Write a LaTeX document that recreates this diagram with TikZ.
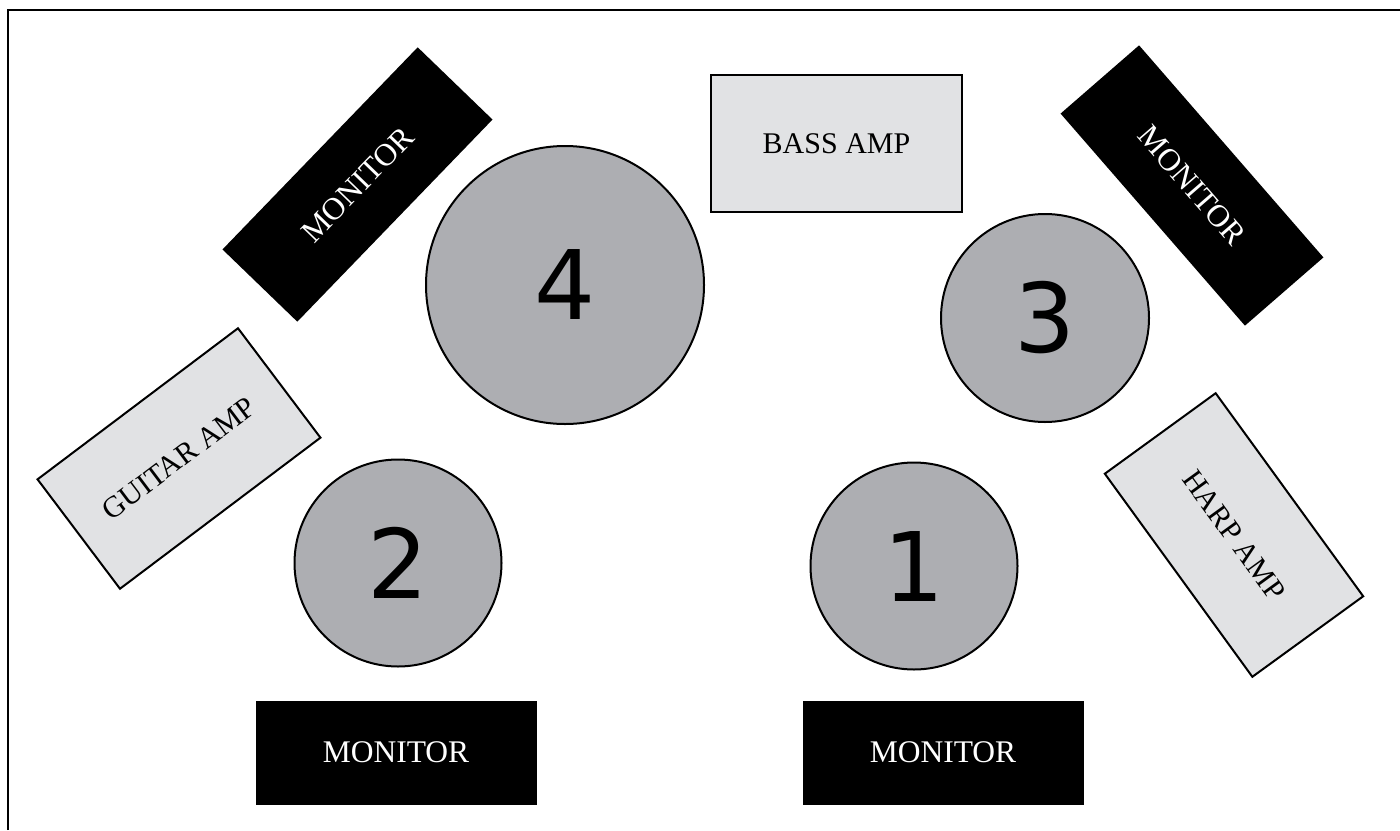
\documentclass[tikz,border=0pt]{standalone}
\usepackage{fontspec}
\setmainfont{Liberation Serif}
\newfontfamily\digitfont{DejaVu Sans}
\definecolor{circfill}{RGB}{173,174,178}
\definecolor{ampfill}{RGB}{225,226,228}
\begin{document}
\begin{tikzpicture}[x=1pt,y=-1pt,
  mon/.style={fill=black,text=white,inner sep=0pt,minimum width=281pt,minimum height=104pt,font=\fontsize{31.5}{33}\selectfont},
  amp/.style={draw=black,line width=2pt,fill=ampfill,inner sep=0pt,minimum width=251pt,minimum height=137pt,font=\fontsize{30}{32}\selectfont},
  mic/.style={circle,draw=black,line width=2pt,fill=circfill,inner sep=0pt,font=\digitfont\fontsize{96}{100}\selectfont}]
\useasboundingbox (0,0) rectangle (1400,830);
\fill[white] (0,0) rectangle (1400,830);
\draw[line width=2pt] (8,830) -- (8,10) -- (1400,10);
% amps
\node[amp] (bass) at (836.5,143.5) {BASS AMP};
\node[amp,rotate=37] (guitar) at (179,458.5) {GUITAR AMP};
\node[amp,rotate=-54] (harp) at (1234,535) {HARP AMP};
% monitors
\node[mon,rotate=46] (montl) at (357.5,184.5) {MONITOR};
\node[mon,rotate=-49] (montr) at (1192,185.5) {MONITOR};
\node[mon] (monbl) at (396,752.5) {MONITOR};
\node[mon] (monbr) at (943,752.5) {MONITOR};
% positions
\node[mic,minimum size=278pt] (p4) at (565,285) {4};
\node[mic,minimum size=208pt] (p3) at (1045,318) {3};
\node[mic,minimum size=207pt] (p2) at (398,563) {2};
\node[mic,minimum size=207pt] (p1) at (914,566) {1};
\end{tikzpicture}
\end{document}
